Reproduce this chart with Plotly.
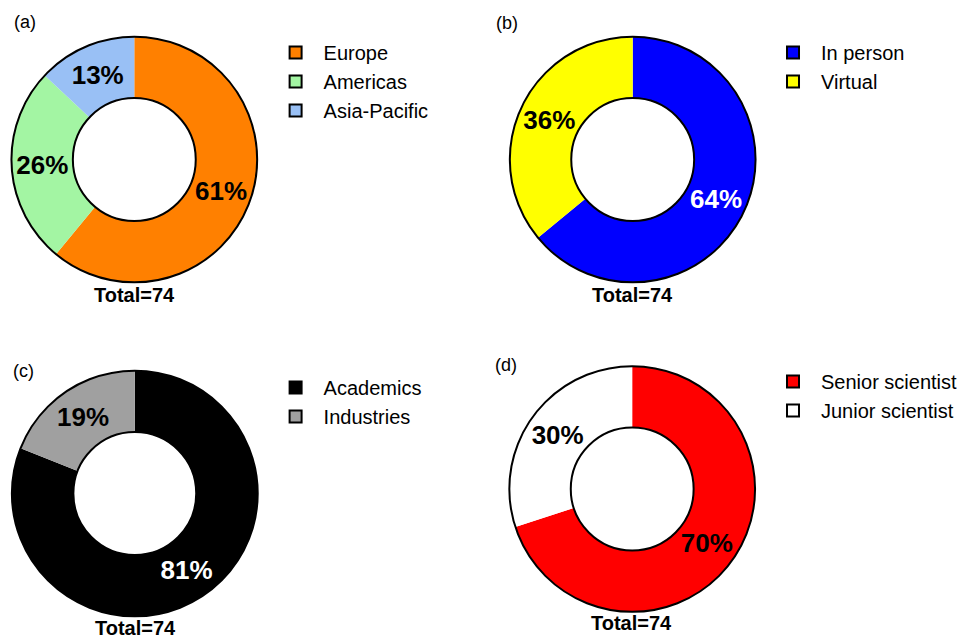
import plotly.graph_objects as go

W, H = 963, 637

# ---- data ----
region_labels = ["Europe", "Americas", "Asia-Pacific"]
region_values = [61, 26, 13]
region_colors = ["#FF8000", "#A3F5A3", "#99C0F5"]

mode_labels = ["In person", "Virtual"]
mode_values = [64, 36]
mode_colors = ["#0000FF", "#FFFF00"]

sector_labels = ["Academics", "Industries"]
sector_values = [81, 19]
sector_colors = ["#000000", "#A0A0A0"]

level_labels = ["Senior scientist", "Junior scientist"]
level_values = [70, 30]
level_colors = ["#FF0000", "#FFFFFF"]

panel_tags = ["(a)", "(b)", "(c)", "(d)"]
total_text = "Total=74"

# text colours inside slices
text_colors = [
    ["#000000", "#000000", "#000000"],
    ["#FFFFFF", "#000000"],
    ["#FFFFFF", "#000000"],
    ["#000000", "#000000"],
]

FONT = "Liberation Sans, Arial, sans-serif"

def px_x(x):
    return x / W

def px_y(y):
    return 1 - y / H

# layout geometry (pixels)
centers = [(135, 159.5), (636, 159.5), (135.5, 493.5), (635.5, 489)]
radius = 123.5
legend_pos = [(269, 33), (769, 33), (269, 368), (769, 362)]
tag_pos = [(12, 22), (497, 23), (11, 371), (496, 365)]
total_pos = [(135, 295), (636, 295), (136, 628), (635, 623)]

panels = [
    (region_labels, region_values, region_colors),
    (mode_labels, mode_values, mode_colors),
    (sector_labels, sector_values, sector_colors),
    (level_labels, level_values, level_colors),
]

fig = go.Figure()
legend_names = ["legend", "legend2", "legend3", "legend4"]

for i, (labels, values, colors) in enumerate(panels):
    cx, cy = centers[i]
    dom = dict(x=[px_x(cx - radius), px_x(cx + radius)],
               y=[px_y(cy + radius), px_y(cy - radius)])
    # legend entries: tiny pie hidden beneath the coloured ring
    tiny = 0.0004
    hx, hy = cx, cy + radius * 0.75
    fig.add_trace(go.Pie(
        labels=labels, values=values, sort=False,
        domain=dict(x=[px_x(hx) - tiny, px_x(hx) + tiny],
                    y=[px_y(hy) - tiny, px_y(hy) + tiny]),
        marker=dict(colors=colors, line=dict(color="black", width=2)),
        textinfo="none", showlegend=True, hoverinfo="skip",
        legend=legend_names[i],
    ))
    # main coloured donut (no slice separators)
    fig.add_trace(go.Pie(
        labels=labels, values=values, sort=False, direction="clockwise",
        rotation=0, hole=0.5, domain=dom,
        marker=dict(colors=colors, line=dict(width=0)),
        texttemplate="%{percent:.0%}", textposition="inside",
        insidetextorientation="horizontal",
        insidetextfont=dict(family=FONT, size=26, color=text_colors[i], weight="bold"),
        showlegend=False, hoverinfo="label+percent",
    ))
    # outline ring (outer & inner circles only)
    fig.add_trace(go.Pie(
        labels=[" "], values=[1], hole=0.5, domain=dom, sort=False,
        marker=dict(colors=["rgba(0,0,0,0)"], line=dict(color="black", width=2)),
        textinfo="none", showlegend=False, hoverinfo="skip",
    ))

annotations = []
for i in range(4):
    tx, ty = tag_pos[i]
    annotations.append(dict(x=px_x(tx), y=px_y(ty), xref="paper", yref="paper",
                            text=panel_tags[i], showarrow=False,
                            xanchor="left", yanchor="middle",
                            font=dict(family=FONT, size=18, color="black")))
    ox, oy = total_pos[i]
    annotations.append(dict(x=px_x(ox), y=px_y(oy), xref="paper", yref="paper",
                            text="<b>" + total_text + "</b>", showarrow=False,
                            xanchor="center", yanchor="middle",
                            font=dict(family=FONT, size=20, color="black")))

layout = dict(
    width=W, height=H, autosize=False,
    margin=dict(l=0, r=0, t=0, b=0),
    paper_bgcolor="white", plot_bgcolor="white",
    annotations=annotations,
)
for i, name in enumerate(legend_names):
    lx, ly = legend_pos[i]
    layout[name] = dict(x=px_x(lx), y=px_y(ly), xanchor="left", yanchor="top",
                        font=dict(family=FONT, size=20, color="black"),
                        bgcolor="rgba(0,0,0,0)", traceorder="normal",
                        itemwidth=46)
fig.update_layout(**layout)

fig.write_html("out.html",
               config={"displayModeBar": False},
               post_script="document.body.style.margin='0px';document.body.style.overflow='hidden';")
